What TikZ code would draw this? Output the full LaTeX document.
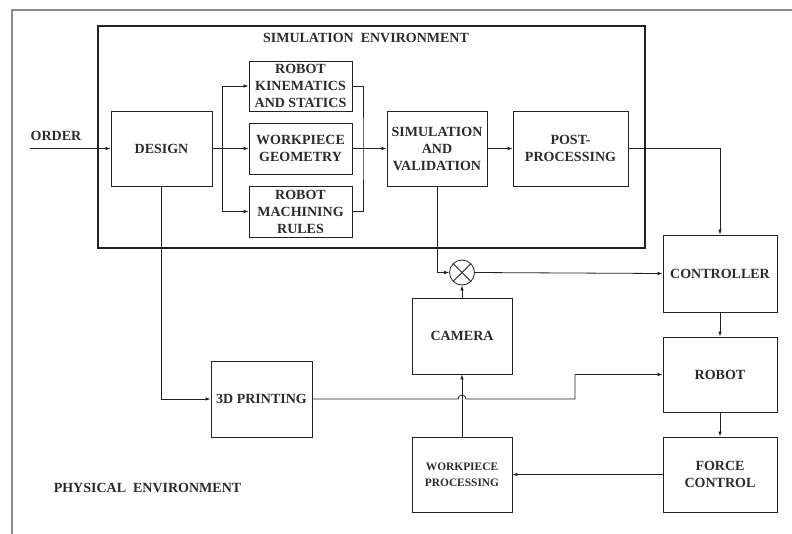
\documentclass[tikz,border=0pt]{standalone}
\usepackage{fontspec}
\setmainfont{Liberation Serif}
\usetikzlibrary{arrows.meta,positioning,calc,shapes}
\definecolor{blkLine}{HTML}{222222}
\definecolor{blkText}{HTML}{2B2B2B}
\definecolor{frameGray}{HTML}{8C8C8C}

\begin{document}
\begin{tikzpicture}[x=1pt,y=-1pt,
          box/.style={rectangle, draw=blkLine, line width=0.9pt, inner sep=0pt, align=center, font=\fontsize{14}{17}\selectfont\bfseries, text=blkText},
          boxSmall/.style={box, font=\fontsize{11.4}{16}\selectfont\bfseries},
          envBox/.style={rectangle, draw=blkLine, line width=1.9pt, inner sep=0pt},
          sumNode/.style={circle, draw=blkLine, line width=0.8pt, minimum size=25pt, inner sep=0pt},
          flow/.style={->, >={Latex[length=5pt,width=3.6pt]}, line width=0.8pt, draw=blkLine},
          wire/.style={line width=0.8pt, draw=blkLine},
          label/.style={font=\fontsize{14}{17}\selectfont\bfseries, text=blkText, inner sep=0pt}
        ]
          \useasboundingbox (0,0) rectangle (792,533);
          \draw[frameGray, line width=1.5pt] (12,545) -- (12,10) -- (800,10);

          % simulation side
          \node[envBox, minimum width=547, minimum height=222] (simEnv) at (371.5,137) {};
          \node[label] (simTitle) at (366,38) {SIMULATION\ \ ENVIRONMENT};
          \node[label] (order) at (56,136) {ORDER};
          \coordinate (orderIn) at (30,148.5);
          \node[box, minimum width=101, minimum height=75] (design) at (161.5,148.5) {DESIGN};
          \node[box, minimum width=103, minimum height=50] (kin) at (300.5,86) {ROBOT\\KINEMATICS\\AND STATICS};
          \node[box, minimum width=103, minimum height=51] (geo) at (300.5,148.5) {WORKPIECE\\GEOMETRY};
          \node[box, minimum width=103, minimum height=51] (rules) at (300.5,211.5) {ROBOT\\MACHINING\\RULES};
          \node[box, minimum width=100, minimum height=75] (sim) at (437,148.5) {SIMULATION\\AND\\VALIDATION};
          \node[box, minimum width=115, minimum height=75] (post) at (570.5,148.5) {POST-\\PROCESSING};
          \coordinate (split) at (222,148.5);
          \coordinate (merge) at (363,148.5);

          % physical side
          \node[sumNode] (sum) at (462,272.5) {};
          \node[box, minimum width=114, minimum height=77] (ctrl) at (720,273.5) {CONTROLLER};
          \node[box, minimum width=114, minimum height=75] (robot) at (720,374.5) {ROBOT};
          \node[box, minimum width=114, minimum height=75] (force) at (720,474.5) {FORCE\\CONTROL};
          \node[box, minimum width=100, minimum height=76] (camera) at (462,336) {CAMERA};
          \node[boxSmall, minimum width=100, minimum height=75] (wpp) at (462,474.5) {WORKPIECE\\PROCESSING};
          \node[box, minimum width=101, minimum height=76] (print) at (261.5,399) {3D PRINTING};
          \node[label] (phys) at (147.5,488) {PHYSICAL\ \ ENVIRONMENT};
          \coordinate (hopC) at (wpp.north |- print.east);
          \coordinate (jog) at (575,399);

          \draw[wire] (sum.north east) -- (sum.south west);
          \draw[wire] (sum.north west) -- (sum.south east);

          \draw[flow] (orderIn) -- (design.west);
          \draw[flow] (design.east) -- (geo.west);
          \draw[flow] (split) |- (kin.west);
          \draw[flow] (split) |- (rules.west);
          \draw[wire] (kin.east) -| (merge) |- (rules.east);
          \draw[flow] (geo.east) -- (sim.west);
          \draw[flow] (sim.east) -- (post.west);
          \draw[flow] (post.east) -| (ctrl.north);
          \draw[flow] (sim.south) |- (sum.west);
          \draw[flow] (sum.east) -- (ctrl.west);
          \draw[flow] (camera.north) -- (sum.south);
          \draw[flow] (ctrl.south) -- (robot.north);
          \draw[flow] (robot.south) -- (force.north);
          \draw[flow] (force.west) -- (wpp.east);
          \draw[flow] (wpp.north) -- (camera.south);
          \draw[flow] (design.south) |- (print.west);
          \draw[flow] (print.east) -- ([xshift=-4pt]hopC) arc[start angle=180, end angle=360, radius=4] -- (jog) |- (robot.west);
        \end{tikzpicture}
\end{document}
